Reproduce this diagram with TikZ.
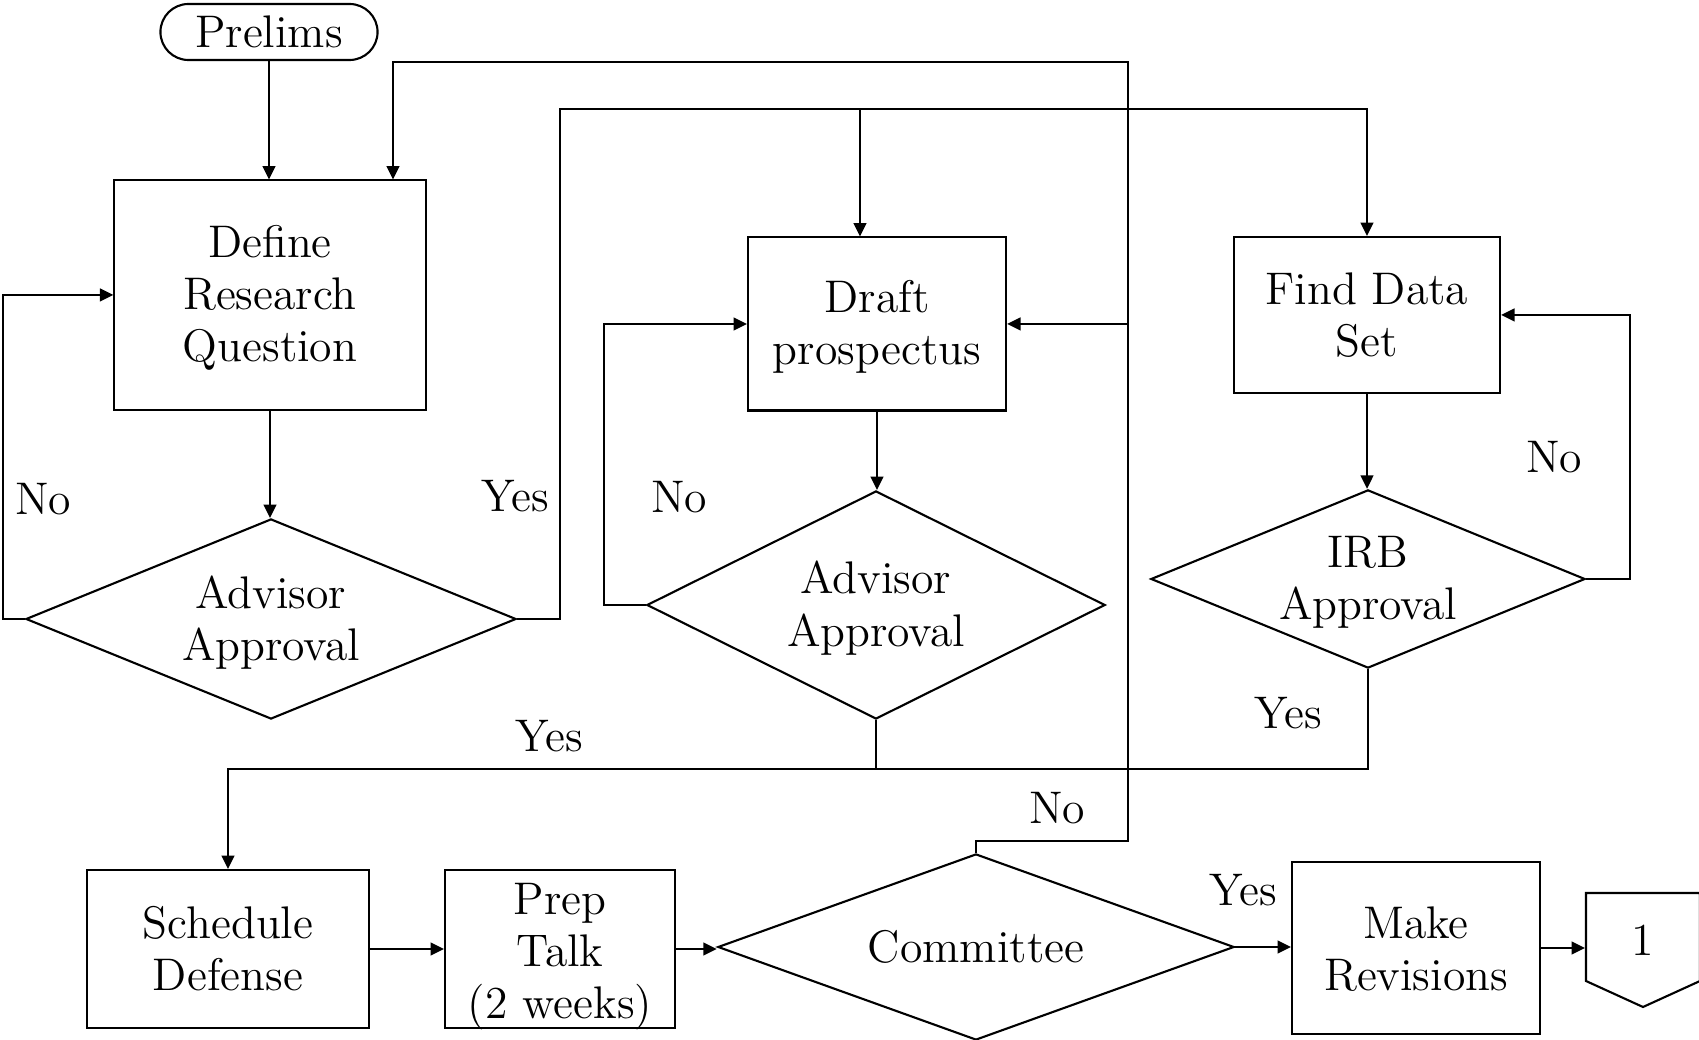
\documentclass[tikz,border=0pt]{standalone}
\usepackage{fontspec}
\usetikzlibrary{shapes.geometric,arrows.meta}

% centred multi-line text, lowered by #1 without changing its box size
\newcommand\lowtext[2]{\raisebox{-#1}[\height][\depth]{\begin{tabular}{@{}c@{}}#2\end{tabular}}}

\begin{document}
\begin{tikzpicture}[
  x=0.01cm, y=-0.01cm,
  line width=0.6pt,
  every node/.style={font=\fontsize{13}{14.8}\selectfont},
  box/.style={draw, rectangle, inner sep=0pt},
  dia/.style={draw, diamond, inner sep=0pt, aspect=2.4},
  lbl/.style={inner sep=0pt},
  arr/.style={-{Triangle[length=3.8pt,width=3.6pt]}}
]
\useasboundingbox (0,0) rectangle (1699,1040);

% process steps
\node[draw, rounded corners=2.8mm, inner sep=0pt, minimum width=2.17cm, minimum height=0.56cm] (pre) at (269,32) {Prelims};
\node[box, minimum width=3.11cm, minimum height=2.29cm] (def) at (270,295) {\lowtext{1.1pt}{Define\\Research\\Question}};
\node[dia, minimum width=4.90cm, minimum height=2.00cm] (adv1) at (271,619) {\lowtext{1.5pt}{Advisor\\Approval}};
\node[box, minimum width=2.58cm, minimum height=1.73cm] (dra) at (877,324) {\lowtext{1.2pt}{Draft\\prospectus}};
\node[dia, minimum width=4.58cm, minimum height=2.28cm] (adv2) at (876,605) {\lowtext{1.3pt}{Advisor\\Approval}};
\node[box, minimum width=2.66cm, minimum height=1.56cm] (fnd) at (1367,315) {\lowtext{1.5pt}{Find Data\\Set}};
\node[dia, minimum width=4.34cm, minimum height=1.78cm] (irb) at (1368,579) {\lowtext{1.1pt}{IRB\\Approval}};
\node[box, minimum width=2.82cm, minimum height=1.58cm] (sch) at (228,949) {\lowtext{1.5pt}{Schedule\\Defense}};
\node[box, minimum width=2.30cm, minimum height=1.58cm] (prp) at (560,949) {\lowtext{2pt}{Prep\\Talk\\(2 weeks)}};
\node[dia, minimum width=5.16cm, minimum height=1.86cm] (com) at (976,947) {\lowtext{1.5pt}{Committee}};
\node[box, minimum width=2.48cm, minimum height=1.72cm] (rev) at (1416,948) {\lowtext{1.8pt}{Make\\Revisions}};

% off-page connector
\node[inner sep=0pt, minimum width=1.14cm] (one) at (1643,940) {1};
\draw (1586,893) -- (1700,893) -- (1700,981) -- (1643,1007) -- (1586,981) -- cycle;

% bend points
\coordinate (cnR) at (1128,841);
\coordinate (cnT) at (1128,62);
\coordinate (cnL) at (393,62);
\coordinate (a1y) at (560,109);
\coordinate (a1d) at (860,109);
\coordinate (a1n) at (3,619);
\coordinate (a2n) at (604,605);
\coordinate (irn) at (1630,579);
\coordinate (jn)  at (228,769);
\coordinate (rvo) at (1540,948);

% connectors
\draw[arr] (pre.south) -- (pre.south |- def.north);
\draw[arr] (def.south) -- (def.south |- adv1.north);
\draw[arr] (adv1.west) -- (a1n) |- (def.west);
\draw[arr] (adv1.east) -| (a1y) -| (fnd.north);
\draw[arr] (a1d) -- (a1d |- dra.north);
\draw[arr] (dra.south) -- (dra.south |- adv2.north);
\draw[arr] (adv2.west) -- (a2n) |- (dra.west);
\draw (adv2.south) -- (adv2.south |- jn);
\draw[arr] (fnd.south) -- (fnd.south |- irb.north);
\draw[arr] (irb.east) -- (irn) |- (fnd.east);
\draw[arr] (irb.south) |- (jn) -- (sch.north);
\draw[arr] (sch.east) -- (sch.east -| prp.west);
\draw[arr] (prp.east) -- (prp.east -| com.west);
\draw[arr] (com.east) -- (com.east -| rev.west);
\draw[arr] (rev.east) -- (rvo -| one.west);
\draw[arr] (com.north) |- (cnR) -- (cnT) -- (cnL) -- (cnL |- def.north);
\draw[arr] (cnR |- dra.east) -- (dra.east);

% branch labels
\node[lbl] (l1) at (43,499) {No};
\node[lbl] (l2) at (515,496) {Yes};
\node[lbl] (l3) at (679,497) {No};
\node[lbl] (l4) at (549,736) {Yes};
\node[lbl] (l5) at (1288,713) {Yes};
\node[lbl] (l6) at (1554,457) {No};
\node[lbl] (l7) at (1057,808) {No};
\node[lbl] (l8) at (1243,890) {Yes};
\end{tikzpicture}
\end{document}
